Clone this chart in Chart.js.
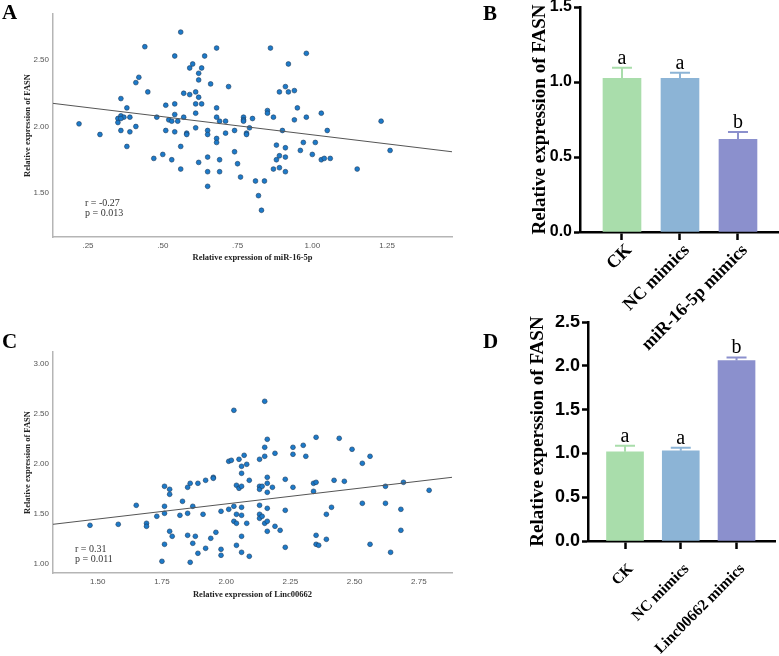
<!DOCTYPE html>
<html>
<head>
<meta charset="utf-8">
<script src="https://cdn.jsdelivr.net/npm/chart.js@4.4.0/dist/chart.umd.min.js"></script>
<style>
  body { margin:0; width:779px; height:656px; background:#fff; position:relative; overflow:hidden; }
  canvas { position:absolute; }
  .lbl { position:absolute; font: bold 21px "Liberation Serif", serif; color:#000; }
</style>
</head>
<body>
<canvas id="ca" width="470" height="280" style="left:0;top:0"></canvas>
<canvas id="cc" width="470" height="300" style="left:0;top:320px"></canvas>
<canvas id="cb" width="309" height="355" style="left:470px;top:0"></canvas>
<canvas id="cd" width="309" height="341" style="left:470px;top:315px"></canvas>
<div class="lbl" style="left:2px;top:0px">A</div>
<div class="lbl" style="left:483px;top:1px">B</div>
<div class="lbl" style="left:2px;top:329px">C</div>
<div class="lbl" style="left:483px;top:329px">D</div>
<script>
// panel A: miR-16-5p vs FASN
const mirX = [0.22,0.29,0.36,0.38,0.35,0.36,0.37,0.36,0.35,0.39,
  0.36,0.39,0.38,0.41,0.41,0.42,0.44,0.45,0.48,0.47,
  0.50,0.51,0.51,0.52,0.53,0.53,0.54,0.54,0.54,0.54,
  0.55,0.56,0.56,0.56,0.57,0.57,0.58,0.58,0.59,0.59,
  0.60,0.61,0.61,0.61,0.61,0.62,0.62,0.62,0.62,0.63,
  0.63,0.64,0.65,0.65,0.65,0.65,0.65,0.66,0.68,0.68,
  0.68,0.68,0.68,0.69,0.69,0.69,0.71,0.71,0.72,0.74,
  0.74,0.75,0.76,0.77,0.77,0.77,0.78,0.78,0.79,0.80,
  0.81,0.82,0.83,0.84,0.85,0.85,0.86,0.87,0.87,0.88,
  0.88,0.89,0.89,0.89,0.90,0.91,0.91,0.91,0.91,0.92,
  0.92,0.94,0.94,0.95,0.96,0.97,0.98,0.98,1.00,1.01,
  1.03,1.03,1.04,1.05,1.06,1.15,1.23,1.26];
const mirFasn = [2.02,1.94,2.21,2.14,2.06,2.08,2.07,2.06,2.03,2.07,
  1.97,1.96,1.85,2.00,2.33,2.37,2.60,2.26,2.07,1.76,
  1.79,2.16,1.97,2.05,2.04,1.75,2.53,2.17,2.09,1.96,
  2.04,2.71,1.85,1.68,2.25,2.07,1.95,1.94,2.44,2.24,
  2.47,2.26,2.17,2.10,1.99,2.40,2.35,2.22,1.73,2.44,
  2.17,2.53,1.97,1.94,1.77,1.66,1.55,2.32,2.59,2.14,
  2.07,1.91,1.88,2.04,1.75,1.66,2.04,1.95,2.30,1.97,
  1.81,1.72,1.62,2.07,2.05,2.04,1.95,1.94,1.99,2.06,
  1.59,1.48,1.37,1.59,2.12,2.10,2.59,2.07,1.68,1.86,
  1.75,2.26,1.78,1.69,1.97,2.30,1.84,1.77,1.66,2.47,
  2.26,2.27,2.05,2.14,1.82,1.88,2.55,2.07,1.79,1.88,
  2.10,1.75,1.76,1.97,1.76,1.68,2.04,1.82];
const fitAX = [0.133, 1.467];
const fitAY = [2.174, 1.81];
const statsA = ['r = -0.27', 'p = 0.013'];

// panel C: Linc00662 vs FASN
const lincX = [1.47,1.58,1.65,1.69,1.69,1.73,1.75,1.76,1.76,1.76,
  1.76,1.78,1.78,1.78,1.79,1.82,1.83,1.85,1.85,1.85,
  1.86,1.86,1.87,1.87,1.88,1.89,1.89,1.91,1.92,1.92,
  1.94,1.95,1.95,1.96,1.98,1.98,1.98,2.01,2.01,2.02,
  2.03,2.03,2.03,2.04,2.04,2.04,2.04,2.05,2.05,2.06,
  2.06,2.06,2.06,2.06,2.06,2.06,2.07,2.08,2.08,2.09,
  2.09,2.13,2.13,2.13,2.13,2.13,2.13,2.14,2.14,2.15,
  2.15,2.15,2.15,2.16,2.16,2.16,2.16,2.16,2.16,2.16,
  2.18,2.19,2.19,2.21,2.23,2.23,2.23,2.26,2.26,2.26,
  2.30,2.31,2.34,2.34,2.35,2.35,2.35,2.35,2.36,2.39,
  2.39,2.41,2.42,2.44,2.46,2.49,2.53,2.53,2.56,2.56,
  2.62,2.62,2.64,2.68,2.68,2.69,2.79];
const lincFasn = [1.38,1.39,1.58,1.40,1.37,1.47,1.02,1.77,1.57,1.50,
  1.19,1.74,1.69,1.32,1.27,1.48,1.62,1.76,1.50,1.28,
  1.80,1.01,1.57,1.20,1.27,1.80,1.10,1.49,1.83,1.15,
  1.25,1.86,1.85,1.31,1.52,1.14,1.08,2.02,1.54,2.03,
  2.53,1.57,1.42,1.78,1.49,1.40,1.18,2.04,1.75,1.97,
  1.90,1.77,1.56,1.48,1.27,1.11,2.08,1.99,1.40,1.83,
  1.07,2.04,1.77,1.74,1.58,1.49,1.45,1.77,1.47,2.62,
  2.16,2.07,1.40,2.24,1.86,1.80,1.71,1.55,1.42,1.32,
  1.76,2.10,1.37,1.33,1.84,1.53,1.16,2.16,2.09,1.76,
  2.18,2.07,1.80,1.72,2.26,1.81,1.28,1.19,1.18,1.49,
  1.24,1.56,1.83,2.25,1.82,2.14,2.00,1.60,2.07,1.19,
  1.77,1.60,1.11,1.54,1.33,1.81,1.73];
const fitCX = [1.326, 2.879];
const fitCY = [1.39, 1.86];
const statsC = ['r = 0.31', 'p = 0.011'];

// panels B and D: bar charts, mean + SD
const groupsB = ['CK', 'NC mimics', 'miR-16-5p mimics'];
const meanB = [1.025, 1.025, 0.618];
const sdB = [0.07, 0.037, 0.049];
const lettersB = ['a', 'a', 'b'];
const groupsD = ['CK', 'NC mimics', 'Linc00662 mimics'];
const meanD = [1.019, 1.03, 2.061];
const sdD = [0.069, 0.035, 0.034];
const lettersD = ['a', 'a', 'b'];
const barColors = ['#a9ddab', '#8cb4d6', '#8b90cd'];

const SANS = '"Liberation Sans", Arial, sans-serif';
const SERIF = '"Liberation Serif", "Times New Roman", serif';

function scatterPanel(id, xs, ys, fitX, fitY, stats, o) {
  const statText = {
    id: 'statText',
    afterDraw(chart) {
      const ctx = chart.ctx, a = chart.chartArea;
      ctx.save();
      ctx.font = '10px ' + SERIF;
      ctx.fillStyle = '#333';
      ctx.textBaseline = 'middle';
      ctx.fillText(stats[0], a.left + o.sx, a.bottom - o.sy);
      ctx.fillText(stats[1], a.left + o.sx, a.bottom - o.sy + 10);
      ctx.restore();
    }
  };
  new Chart(document.getElementById(id), {
    type: 'scatter',
    data: {
      datasets: [
        {
          type: 'line',
          data: fitX.map((x, i) => ({x: x, y: fitY[i]})),
          borderColor: '#555',
          borderWidth: 1,
          pointRadius: 0,
          order: 0
        },
        {
          data: xs.map((x, i) => ({x: x, y: ys[i]})),
          backgroundColor: '#1c7ac9',
          borderColor: '#1d3a5c',
          borderWidth: 0.6,
          pointRadius: 2.4,
          order: 1
        }
      ]
    },
    options: {
      responsive: false,
      animation: false,
      layout: {padding: {top: o.top, right: o.right, left: 0, bottom: 0}},
      plugins: {legend: {display: false}, tooltip: {enabled: false}},
      scales: {
        x: {
          type: 'linear', min: o.xmin, max: o.xmax,
          afterBuildTicks: s => { s.ticks = o.xticks.map(v => ({value: v})); },
          afterFit: s => { s.height = o.xh; s.paddingLeft = 0; s.paddingRight = 0; },
          grid: {display: false, drawTicks: false},
          border: {color: '#b5b5b5', width: 1.5},
          ticks: {
            padding: 4, color: '#555', font: {family: SANS, size: 8},
            callback: v => v < 1 ? v.toFixed(2).slice(1) : v.toFixed(2)
          },
          title: {
            display: true, text: o.xtitle, color: '#222',
            font: {family: SERIF, weight: 'bold', size: 8.5},
            padding: {top: 0, bottom: o.xtp}
          }
        },
        y: {
          min: o.ymin, max: o.ymax,
          afterBuildTicks: s => { s.ticks = o.yticks.map(v => ({value: v})); },
          afterFit: s => { s.width = 53; s.paddingTop = 0; s.paddingBottom = 0; },
          grid: {display: false, drawTicks: false},
          border: {color: '#b5b5b5', width: 1.5},
          ticks: {padding: 4, color: '#555', font: {family: SANS, size: 8}, callback: v => v.toFixed(2)},
          title: {
            display: true, text: 'Relative expression of FASN', color: '#222',
            font: {family: SERIF, weight: 'bold', size: 8.5},
            padding: {top: 23, bottom: 0}
          }
        }
      }
    },
    plugins: [statText]
  });
}

function barPanel(id, groups, means, sds, letters, o) {
  const errBars = {
    id: 'errBars',
    afterDatasetsDraw(chart) {
      const ctx = chart.ctx, y = chart.scales.y;
      chart.getDatasetMeta(0).data.forEach((bar, i) => {
        const top = y.getPixelForValue(means[i] + sds[i]);
        ctx.save();
        ctx.strokeStyle = barColors[i];
        ctx.lineWidth = 2;
        ctx.beginPath();
        ctx.moveTo(bar.x, bar.y);
        ctx.lineTo(bar.x, top);
        ctx.moveTo(bar.x - 10, top);
        ctx.lineTo(bar.x + 10, top);
        ctx.stroke();
        ctx.fillStyle = '#000';
        ctx.font = '20px ' + SERIF;
        ctx.textAlign = 'center';
        ctx.textBaseline = 'alphabetic';
        ctx.fillText(letters[i], bar.x, top - 4);
        ctx.restore();
      });
    }
  };
  new Chart(document.getElementById(id), {
    type: 'bar',
    data: {
      datasets: [{
        data: means.map((m, i) => ({x: i, y: m})),
        backgroundColor: barColors,
        borderWidth: 0,
        barThickness: o.bw
      }]
    },
    options: {
      responsive: false,
      animation: false,
      layout: {padding: {top: o.top, right: o.right, left: 0, bottom: 0}},
      plugins: {legend: {display: false}, tooltip: {enabled: false}},
      scales: {
        x: {
          type: 'linear', min: o.xmin, max: o.xmax, offset: false,
          afterBuildTicks: s => { s.ticks = groups.map((g, i) => ({value: i})); },
          afterFit: s => { s.height = o.xh; s.paddingLeft = 0; s.paddingRight = 0; },
          grid: {offset: false, drawOnChartArea: false, drawTicks: true, tickLength: 8, tickWidth: 2.5, tickColor: '#000'},
          border: {color: '#000', width: 2.5},
          ticks: {
            autoSkip: false, maxRotation: 45, minRotation: 45, padding: o.xpad, labelOffset: o.xoff,
            color: '#000', font: {family: SERIF, weight: 'bold', size: o.xfs},
            callback: v => groups[v]
          }
        },
        y: {
          min: 0, max: o.ymax,
          afterFit: s => { s.width = o.yw; s.paddingTop = 0; s.paddingBottom = 0; },
          grid: {drawOnChartArea: false, drawTicks: true, tickLength: 6, tickWidth: 2.5, tickColor: '#000'},
          border: {color: '#000', width: 2.5},
          ticks: {stepSize: 0.5, padding: 2, color: '#000', font: {family: SANS, weight: 'bold', size: o.yfs}, callback: v => v.toFixed(1)},
          title: {
            display: true, text: o.ytitle, color: '#000',
            font: {family: SERIF, weight: 'bold', size: 19},
            padding: {top: o.ytp, bottom: 0}
          }
        }
      }
    },
    plugins: [errBars]
  });
}

scatterPanel('ca', mirX, mirFasn, fitAX, fitAY, statsA, {
  top: 14, right: 18, xh: 43, xtp: 17,
  xmin: 0.133, xmax: 1.467, ymin: 1.169, ymax: 2.846,
  xticks: [0.25, 0.5, 0.75, 1.0, 1.25], yticks: [1.5, 2.0, 2.5],
  xtitle: 'Relative expression of miR-16-5p', sx: 32, sy: 34
});

scatterPanel('cc', lincX, lincFasn, fitCX, fitCY, statsC, {
  top: 32, right: 18, xh: 47, xtp: 20,
  xmin: 1.326, xmax: 2.879, ymin: 0.903, ymax: 3.113,
  xticks: [1.5, 1.75, 2.0, 2.25, 2.5, 2.75], yticks: [1.0, 1.5, 2.0, 2.5, 3.0],
  xtitle: 'Relative expression of Linc00662', sx: 22, sy: 24
});

barPanel('cb', groupsB, meanB, sdB, lettersB, {
  top: 7, right: 1, xh: 123, yw: 110, ytp: 58.6, bw: 38, yfs: 16,
  xpad: 0, xoff: 7, xfs: 18,
  xmin: -0.724, xmax: 2.69, ymax: 1.5,
  ytitle: 'Relative expression of FASN'
});

barPanel('cd', groupsD, meanD, sdD, lettersD, {
  top: 7, right: 4, xh: 115, yw: 118, ytp: 56.6, bw: 37, yfs: 18,
  xpad: 11, xoff: 6, xfs: 15.5,
  xmin: -0.664, xmax: 2.69, ymax: 2.5,
  ytitle: 'Relative experssion of FASN'
});
</script>
</body>
</html>
